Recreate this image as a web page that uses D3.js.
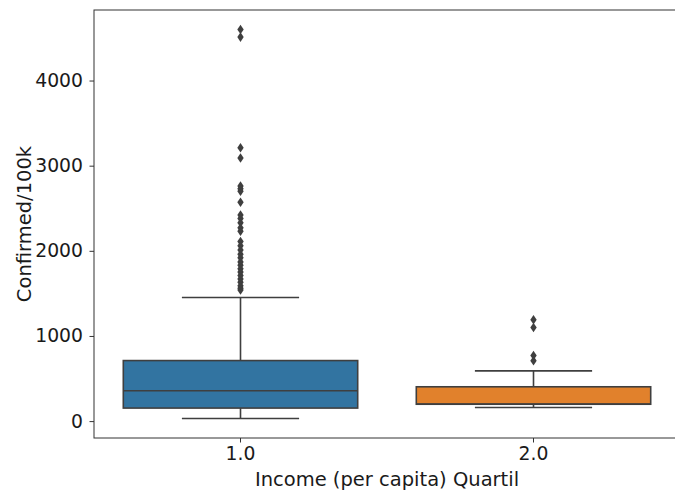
<!DOCTYPE html>
<html>
<head>
<meta charset="utf-8">
<script src="https://cdn.jsdelivr.net/npm/d3@7"></script>
<style>
  body { margin: 0; background: #fff; }
  text { font-family: "DejaVu Sans", sans-serif; fill: #1a1a1a; }
</style>
</head>
<body>
<div id="chart"></div>
<script>
// Quartile groups
const categories = ['1.0', '2.0'];

// box stats per group (lower whisker, Q1, median, Q3, upper whisker)
const lowWhisker = [30, 160];
const q1 = [153, 198];
const median = [356, 200];
const q3 = [711, 403];
const highWhisker = [1451, 590];

// outliers per group
const outliers1 = [4600, 4510, 3210, 3090, 2760, 2730, 2700, 2570, 2420, 2380, 2330,
    2270, 2230, 2110, 2060, 2010, 1960, 1920, 1870, 1830, 1790, 1750, 1710, 1670,
    1630, 1590, 1560, 1540];
const outliers2 = [1190, 1100, 770, 710];

const yTicks = [0, 1000, 2000, 3000, 4000];

const colors = ['#3274a1', '#e1812c'];
const lineColor = '#3f3f3f';

const width = 675;
const height = 491;
const margin = { top: 10, right: -5, bottom: 53, left: 94 };
const innerW = width - margin.left - margin.right;
const innerH = height - margin.top - margin.bottom;

const boxes = categories.map((c, i) => ({
    cat: c,
    lo: lowWhisker[i], q1: q1[i], med: median[i], q3: q3[i], hi: highWhisker[i],
    fliers: i === 0 ? outliers1 : outliers2,
    color: colors[i]
}));

const svg = d3.select('#chart')
    .append('svg')
    .attr('width', width)
    .attr('height', height);

const g = svg.append('g')
    .attr('transform', `translate(${margin.left}, ${margin.top})`);

// Scales
const x = d3.scaleBand().domain(categories).range([0, innerW]);
const allVals = boxes.flatMap(b => [b.lo, b.hi, ...b.fliers]);
const yMin = d3.min(allVals), yMax = d3.max(allVals);
const pad = (yMax - yMin) * 0.05;
const y = d3.scaleLinear().domain([yMin - pad, yMax + pad]).range([innerH, 0]);

const boxW = x.bandwidth() * 0.8;
const capW = boxW / 2;

// boxes
const bg = g.selectAll('.box')
    .data(boxes)
    .join('g')
    .attr('class', 'box')
    .attr('transform', d => `translate(${x(d.cat) + x.bandwidth() / 2}, 0)`);

// whiskers
bg.append('line')
    .attr('y1', d => y(d.q3)).attr('y2', d => y(d.hi))
    .attr('stroke', lineColor).attr('stroke-width', 1.6);
bg.append('line')
    .attr('y1', d => y(d.q1)).attr('y2', d => y(d.lo))
    .attr('stroke', lineColor).attr('stroke-width', 1.6);

// caps
bg.append('line')
    .attr('x1', -capW / 2).attr('x2', capW / 2)
    .attr('y1', d => y(d.hi)).attr('y2', d => y(d.hi))
    .attr('stroke', lineColor).attr('stroke-width', 1.6);
bg.append('line')
    .attr('x1', -capW / 2).attr('x2', capW / 2)
    .attr('y1', d => y(d.lo)).attr('y2', d => y(d.lo))
    .attr('stroke', lineColor).attr('stroke-width', 1.6);

bg.append('rect')
    .attr('x', -boxW / 2)
    .attr('width', boxW)
    .attr('y', d => y(d.q3))
    .attr('height', d => y(d.q1) - y(d.q3))
    .attr('fill', d => d.color)
    .attr('stroke', lineColor)
    .attr('stroke-width', 1.6);

// median
bg.append('line')
    .attr('x1', -boxW / 2).attr('x2', boxW / 2)
    .attr('y1', d => y(d.med)).attr('y2', d => y(d.med))
    .attr('stroke', lineColor).attr('stroke-width', 1.6);

// fliers (diamonds)
const diamond = 'M0,-4.8L3.2,0L0,4.8L-3.2,0Z';
bg.selectAll('.flier')
    .data(d => d.fliers)
    .join('path')
    .attr('class', 'flier')
    .attr('d', diamond)
    .attr('transform', v => `translate(0, ${y(v)})`)
    .attr('fill', lineColor);

// Axes
const yAxis = d3.axisLeft(y).tickValues(yTicks).tickSize(4.5).tickPadding(6.5).tickFormat(d3.format('d'));
const gy = g.append('g').call(yAxis);
const xAxis = d3.axisBottom(x).tickSize(4.5).tickPadding(4);
const gx = g.append('g').attr('transform', `translate(0, ${innerH})`).call(xAxis);

[gx, gy].forEach(ax => {
    ax.select('.domain').remove();
    ax.selectAll('line').attr('stroke', '#333').attr('stroke-width', 1);
    ax.selectAll('text').style('font-size', '18.8px').attr('fill', '#1a1a1a');
});

// frame
g.append('rect')
    .attr('width', innerW).attr('height', innerH)
    .attr('fill', 'none').attr('stroke', '#333').attr('stroke-width', 1);

// labels
svg.append('text')
    .attr('x', margin.left + innerW / 2)
    .attr('y', 486)
    .attr('text-anchor', 'middle')
    .style('font-size', '19.5px')
    .text('Income (per capita) Quartil');

svg.append('text')
    .attr('transform', `translate(31, ${margin.top + innerH / 2}) rotate(-90)`)
    .attr('text-anchor', 'middle')
    .style('font-size', '19.5px')
    .text('Confirmed/100k');
</script>
</body>
</html>
